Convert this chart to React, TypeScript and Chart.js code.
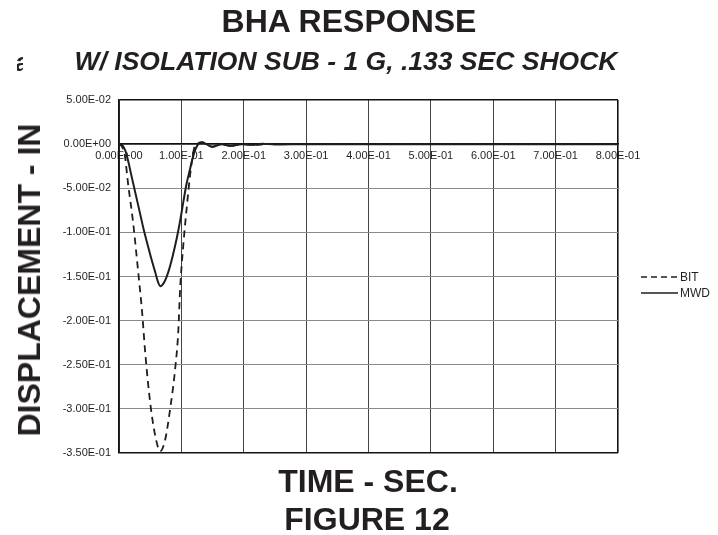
import React, { useEffect, useRef } from "react";
import { Chart, registerables } from "chart.js";

Chart.register(...registerables);

const bitTime = [0, 0.005, 0.0096, 0.0144, 0.0225, 0.0305, 0.037, 0.042, 0.05, 0.058, 0.066, 0.074, 0.082, 0.09, 0.095, 0.098, 0.103, 0.109, 0.114, 0.12, 0.127, 0.133, 0.14, 0.149, 0.165, 0.178, 0.197, 0.215, 0.24, 0.3, 0.4, 0.5, 0.6, 0.7, 0.8];
const bitValues = [0, -0.003, -0.014, -0.044, -0.088, -0.143, -0.19, -0.236, -0.293, -0.33, -0.348, -0.335, -0.3, -0.255, -0.213, -0.164, -0.115, -0.069, -0.035, -0.006, 0.001, 0.002, 0.0, -0.003, 0.0, -0.002, 0.0, -0.001, 0.0, 0, 0, 0, 0, 0, 0];

const mwdTime = [0, 0.005, 0.01, 0.015, 0.02, 0.031, 0.04, 0.05, 0.058, 0.063, 0.066, 0.072, 0.079, 0.086, 0.0925, 0.098, 0.103, 0.108, 0.114, 0.12, 0.127, 0.133, 0.14, 0.149, 0.165, 0.178, 0.197, 0.215, 0.23, 0.25, 0.3, 0.4, 0.5, 0.6, 0.7, 0.8];
const mwdValues = [0, -0.001, -0.007, -0.02, -0.036, -0.07, -0.098, -0.125, -0.145, -0.157, -0.161, -0.157, -0.145, -0.127, -0.107, -0.087, -0.066, -0.046, -0.028, -0.011, 0.0, 0.002, 0.0, -0.003, 0.0, -0.002, 0.0, -0.001, 0.0005, -0.0005, 0, 0, 0, 0, 0, 0];

const seriesLabels = ["BIT", "MWD"];
const xTicks = { min: 0, max: 0.8, step: 0.1 };
const yTicks = { min: -0.35, max: 0.05, step: 0.05 };

const titleText = "BHA RESPONSE";
const subtitleText = "W/ ISOLATION SUB - 1 G, .133 SEC SHOCK";
const yTitle = "DISPLACEMENT - IN";
const xTitle = "TIME - SEC.";
const figureText = "FIGURE 12";

function fmtExp(v: number): string {
  const s = Number(v).toExponential(2);
  const [m, e] = s.split("e");
  const en = parseInt(e, 10);
  const sign = en < 0 ? "-" : "+";
  return m + "E" + sign + String(Math.abs(en)).padStart(2, "0");
}

const FONT = "'Liberation Sans', Arial, Helvetica, sans-serif";
const INK = "#231f20";

const legendPlugin = {
  id: "sideLegend",
  afterDraw(chart: any) {
    const ctx = chart.ctx;
    const ds = chart.data.datasets;
    ctx.save();
    ds.forEach((d: any, i: number) => {
      const y = 277 + i * 16;
      ctx.beginPath();
      ctx.strokeStyle = d.borderColor;
      ctx.lineWidth = 1.3;
      ctx.setLineDash(d.borderDash ? [6, 4] : []);
      ctx.moveTo(641, y);
      ctx.lineTo(678, y);
      ctx.stroke();
      ctx.setLineDash([]);
      ctx.fillStyle = INK;
      ctx.font = "12px " + FONT;
      ctx.textBaseline = "middle";
      ctx.textAlign = "left";
      ctx.fillText(d.label, 680, y + 1);
    });
    ctx.restore();
  },
};

function ChartView() {
  const ref = useRef<HTMLCanvasElement | null>(null);
  useEffect(() => {
    if (!ref.current) return;
    const near = (a: number, b: number) => Math.abs(a - b) < 1e-9;
    const chart = new Chart(ref.current, {
      type: "scatter",
      data: {
        datasets: [
          {
            label: seriesLabels[0],
            data: bitTime.map((t, i) => ({ x: t, y: bitValues[i] })),
            showLine: true,
            borderColor: "#1e1e1e",
            borderWidth: 1.8,
            borderDash: [7, 5],
            pointRadius: 0,
            cubicInterpolationMode: "monotone",
            fill: false,
          },
          {
            label: seriesLabels[1],
            data: mwdTime.map((t, i) => ({ x: t, y: mwdValues[i] })),
            showLine: true,
            borderColor: "#1e1e1e",
            borderWidth: 2,
            pointRadius: 0,
            cubicInterpolationMode: "monotone",
            fill: false,
          },
        ],
      },
      options: {
        responsive: false,
        animation: false,
        devicePixelRatio: 1,
        layout: { padding: { left: 0, top: 100, right: 100, bottom: 82 } },
        plugins: {
          legend: { display: false },
          tooltip: { enabled: false },
          title: { display: false },
        },
        scales: {
          x: {
            type: "linear",
            position: { y: 0 },
            min: xTicks.min,
            max: xTicks.max,
            ticks: {
              stepSize: xTicks.step,
              callback: (v: any) => fmtExp(Number(v)),
              color: INK,
              font: { family: FONT, size: 11 },
              padding: 5,
              maxRotation: 0,
              autoSkip: false,
            },
            grid: {
              drawTicks: false,
              color: (c: any) => (c.tick && near(c.tick.value, xTicks.max) ? "#111" : "#444"),
              lineWidth: (c: any) => (c.tick && near(c.tick.value, xTicks.max) ? 1.6 : 1),
            },
            border: { display: true, color: "#111", width: 1.5 },
          },
          y: {
            type: "linear",
            min: yTicks.min,
            max: yTicks.max,
            afterFit: (s: any) => {
              s.width = 119;
            },
            ticks: {
              stepSize: yTicks.step,
              callback: (v: any) => fmtExp(Number(v)),
              color: INK,
              font: { family: FONT, size: 11 },
              padding: 8,
            },
            grid: {
              drawTicks: false,
              color: (c: any) => {
                const v = c.tick ? c.tick.value : 1;
                if (near(v, yTicks.min) || near(v, yTicks.max)) return "#111";
                return "#8a8a8a";
              },
              lineWidth: (c: any) => {
                const v = c.tick ? c.tick.value : 1;
                if (near(v, yTicks.min) || near(v, yTicks.max)) return 1.6;
                return 1;
              },
            },
            border: { display: true, color: "#111", width: 1.6 },
          },
        },
      },
      plugins: [legendPlugin],
    } as any);
    return () => chart.destroy();
  }, []);
  return <canvas ref={ref} width={718} height={535} style={{ position: "absolute", left: 0, top: 0 }} />;
}

const textBase: React.CSSProperties = {
  position: "absolute",
  fontFamily: FONT,
  fontWeight: 700,
  color: INK,
  lineHeight: 1,
  whiteSpace: "nowrap",
  transform: "translate(-50%, -50%)",
};

export default function App() {
  return (
    <div style={{ position: "fixed", left: 0, top: 0, width: 718, height: 535, background: "#fff", overflow: "hidden" }}>
      <ChartView />
      <div style={{ ...textBase, left: 349, top: 21, fontSize: 32 }}>{titleText}</div>
      <div style={{ ...textBase, left: 346, top: 61, fontSize: 26.5, fontStyle: "italic" }}>{subtitleText}</div>
      <div style={{ position: "absolute", left: 17, top: 50, width: 6, height: 24, overflow: "hidden" }}>
        <span style={{ fontFamily: FONT, fontWeight: 700, fontStyle: "italic", fontSize: 26, color: INK, lineHeight: "24px", position: "absolute", left: -2, top: 0 }}>a</span>
      </div>
      <div style={{ ...textBase, left: 29, top: 280, fontSize: 32, transform: "translate(-50%, -50%) rotate(-90deg)" }}>{yTitle}</div>
      <div style={{ ...textBase, left: 368, top: 481, fontSize: 32 }}>{xTitle}</div>
      <div style={{ ...textBase, left: 367, top: 519, fontSize: 32 }}>{figureText}</div>
    </div>
  );
}
